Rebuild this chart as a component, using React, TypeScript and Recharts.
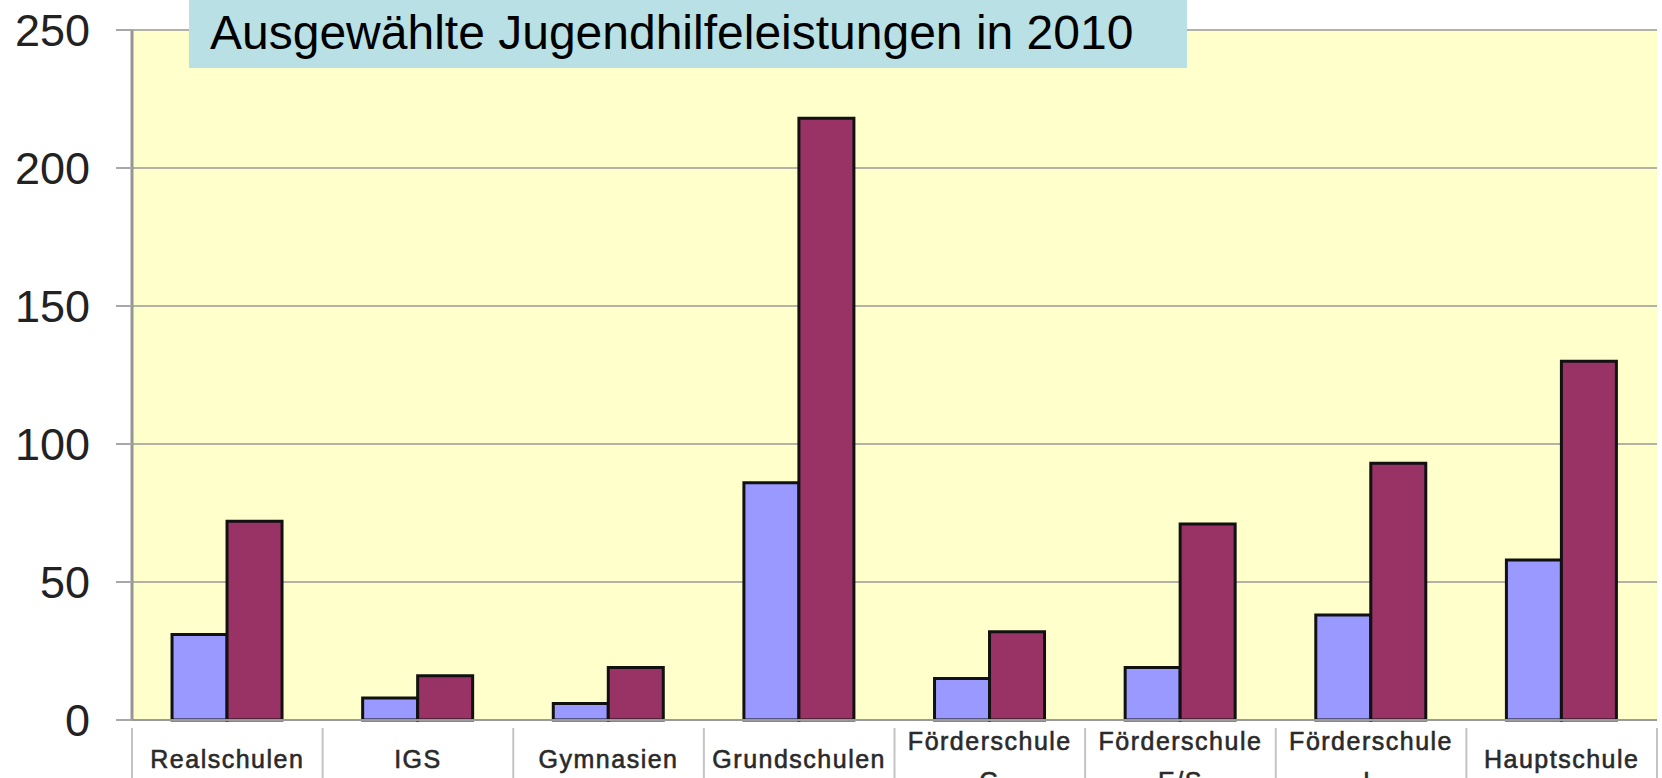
import { BarChart, Bar, XAxis, YAxis, CartesianGrid } from 'recharts';

// Schularten (x categories), "\n" splits a label into two lines
const categories = [
  'Realschulen',
  'IGS',
  'Gymnasien',
  'Grundschulen',
  'Förderschule\nG',
  'Förderschule\nE/S',
  'Förderschule\nL',
  'Hauptschule',
];

const seriesBlue = [31, 8, 6, 86, 15, 19, 38, 58];
const seriesRed = [72, 16, 19, 218, 32, 71, 93, 130];

const yTicks = [0, 50, 100, 150, 200, 250];

const title = 'Ausgewählte Jugendhilfeleistungen in 2010';

const WIDTH = 1662;
const HEIGHT = 778;
const Y_AXIS_WIDTH = 132;
const MARGIN = { top: 30, right: 5, left: 0, bottom: 0 };
const FONT = '"Liberation Sans", Arial, sans-serif';

const data = categories.map((name, i) => ({
  name,
  blue: seriesBlue[i],
  red: seriesRed[i],
}));

const halfBand = (WIDTH - Y_AXIS_WIDTH - MARGIN.left - MARGIN.right) / categories.length / 2;

function CategoryTick(props: any) {
  const { x, y, payload, index } = props;
  const lines = String(payload.value).split('\n');
  const isLast = index === categories.length - 1;
  return (
    <g>
      <line x1={x - halfBand} y1={y} x2={x - halfBand} y2={HEIGHT} stroke="#c4c4c4" strokeWidth={2} />
      {isLast && (
        <line x1={x + halfBand} y1={y} x2={x + halfBand} y2={HEIGHT} stroke="#c4c4c4" strokeWidth={2} />
      )}
      {lines.map((line, i) => (
        <text
          key={i}
          x={x}
          y={lines.length === 1 ? 768 : 750 + i * 40}
          textAnchor="middle"
          fill="#2a2a2a"
          stroke="#2a2a2a"
          strokeWidth={0.6}
          fontSize={25}
          letterSpacing={1.5}
          fontFamily={FONT}
        >
          {line}
        </text>
      ))}
    </g>
  );
}

export default function App() {
  return (
    <div style={{ position: 'relative', width: WIDTH, height: HEIGHT, overflow: 'hidden', background: '#fff' }}>
      <style>{'body{margin:0}'}</style>
      <BarChart
        width={WIDTH}
        height={HEIGHT}
        data={data}
        margin={MARGIN}
        barCategoryGap="21%"
        barGap={0}
      >
        <CartesianGrid vertical={false} stroke="#b2b2a6" strokeWidth={2} fill="#ffffcc" />
        <XAxis
          dataKey="name"
          height={HEIGHT - 720}
          axisLine={{ stroke: '#9a9a9a', strokeWidth: 2 }}
          tickLine={false}
          tick={<CategoryTick />}
          interval={0}
        />
        <YAxis
          domain={[0, 250]}
          ticks={yTicks}
          width={Y_AXIS_WIDTH}
          axisLine={{ stroke: '#959595', strokeWidth: 3 }}
          tickLine={{ stroke: '#a8a8a8', strokeWidth: 2 }}
          tickSize={16}
          tickMargin={26}
          tick={{ fontSize: 45, fill: '#222', fontFamily: FONT }}
        />
        <YAxis
          yAxisId="right"
          orientation="right"
          domain={[0, 250]}
          width={0}
          tick={false}
          tickLine={false}
          axisLine={{ stroke: '#959595', strokeWidth: 3 }}
        />
        <Bar dataKey="blue" fill="#9999ff" stroke="#111" strokeWidth={3} isAnimationActive={false} />
        <Bar dataKey="red" fill="#993366" stroke="#111" strokeWidth={3} isAnimationActive={false} />
      </BarChart>
      <div
        style={{
          position: 'absolute',
          left: 189,
          top: 0,
          width: 998,
          height: 68,
          background: '#b9e0e4',
          fontFamily: FONT,
          fontSize: 48,
          lineHeight: '66px',
          paddingLeft: 21,
          boxSizing: 'border-box',
          color: '#000',
          whiteSpace: 'nowrap',
        }}
      >
        {title}
      </div>
    </div>
  );
}
